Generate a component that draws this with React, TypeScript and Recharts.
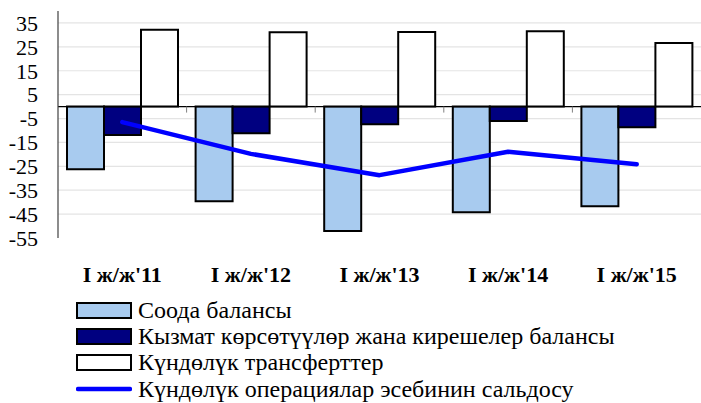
import React from 'react';
import {
  ComposedChart,
  Bar,
  Line,
  XAxis,
  YAxis,
  CartesianGrid,
  ReferenceLine,
  Legend,
} from 'recharts';

const categories = ["I ж/ж'11", "I ж/ж'12", "I ж/ж'13", "I ж/ж'14", "I ж/ж'15"];
const tradeBalance = [-26.2, -39.6, -52.1, -44.2, -41.7];
const servicesIncome = [-11.9, -11.2, -7.4, -6.0, -8.7];
const transfers = [32.2, 31.1, 31.2, 31.5, 26.6];
const currentAccount = [-6.5, -19.8, -28.7, -18.9, -24.1];
const yTicks = [35, 25, 15, 5, -5, -15, -25, -35, -45, -55];
const gridValues = [35, 25, 15, 5, -5, -15, -25, -35, -45];

const seriesNames = [
  'Соода балансы',
  'Кызмат көрсөтүүлөр жана кирешелер балансы',
  'Күндөлүк трансферттер',
  'Күндөлүк операциялар эсебинин сальдосу',
];

const data = categories.map((cat, i) => ({
  cat,
  trade: tradeBalance[i],
  services: servicesIncome[i],
  transfers: transfers[i],
  current: currentAccount[i],
}));

const FONT = '"Liberation Serif", "Times New Roman", serif';

const ZeroLine = (props: any) => {
  const { x1, y1, x2, y2 } = props;
  const n = categories.length;
  const step = (x2 - x1) / n;
  const marks = [];
  for (let k = 1; k < n; k++) {
    const x = x1 + step * k;
    marks.push(<line key={k} x1={x} y1={y1} x2={x} y2={y1 + 6} stroke="#808080" strokeWidth={1} />);
  }
  return (
    <g>
      <line x1={x1} y1={y1} x2={x2} y2={y2} stroke="#000" strokeWidth={1.2} />
      {marks}
    </g>
  );
};

const LegendContent = (props: any) => {
  const payload = [...(props.payload || [])].sort(
    (a: any, b: any) => seriesNames.indexOf(a.value) - seriesNames.indexOf(b.value)
  );
  return (
    <div style={{ fontFamily: FONT, fontSize: 24, color: '#000' }}>
      {payload.map((entry: any, i: number) => (
        <div key={i} style={{ display: 'flex', alignItems: 'center', height: 26.2, whiteSpace: 'nowrap' }}>
          {entry.type === 'line' ? (
            <svg width={56} height={16} style={{ display: 'block' }}>
              <line x1={2} y1={8} x2={54} y2={8} stroke={entry.color} strokeWidth={4.5} strokeLinecap="round" />
            </svg>
          ) : (
            <svg width={56} height={17} style={{ display: 'block' }}>
              <rect x={1} y={1} width={54} height={15} fill={entry.payload?.fill || entry.color} stroke="#000" strokeWidth={2} />
            </svg>
          )}
          <span style={{ marginLeft: 6, lineHeight: '26px' }}>{entry.value}</span>
        </div>
      ))}
    </div>
  );
};

export default function App() {
  return (
    <div style={{ position: 'absolute', left: 0, top: 0, width: 701, height: 403, background: '#fff', fontFamily: FONT }}>
      <ComposedChart
        width={701}
        height={403}
        data={data}
        margin={{ top: 11, right: 0, left: 0, bottom: 125 }}
        barCategoryGap="7%"
        barGap={0}
      >
        <CartesianGrid vertical={false} horizontalValues={gridValues} stroke="#E4E4E4" strokeWidth={1.2} />
        <XAxis
          dataKey="cat"
          axisLine={false}
          tickLine={false}
          tickSize={0}
          tickMargin={28}
          height={40}
          interval={0}
          tick={{ fontFamily: FONT, fontSize: 22, fontWeight: 'bold', fill: '#000' }}
        />
        <YAxis
          domain={[-55, 40]}
          ticks={yTicks}
          interval={0}
          width={58}
          tickLine={false}
          tickSize={0}
          tickMargin={20}
          axisLine={{ stroke: '#404040', strokeWidth: 1.2 }}
          tick={{ fontFamily: FONT, fontSize: 22, fill: '#000' }}
        />
        <Bar dataKey="trade" name={seriesNames[0]} fill="#A8CBEF" stroke="#000" strokeWidth={2} isAnimationActive={false} />
        <Bar dataKey="services" name={seriesNames[1]} fill="#000080" stroke="#000" strokeWidth={2} isAnimationActive={false} />
        <Bar dataKey="transfers" name={seriesNames[2]} fill="#FFFFFF" stroke="#000" strokeWidth={2} isAnimationActive={false} />
        <ReferenceLine y={0} shape={ZeroLine} />
        <Line
          dataKey="current"
          name={seriesNames[3]}
          type="linear"
          stroke="#0000FF"
          strokeWidth={4.5}
          strokeLinecap="round"
          strokeLinejoin="round"
          dot={false}
          activeDot={false}
          isAnimationActive={false}
        />
        <Legend
          layout="vertical"
          align="center"
          verticalAlign="bottom"
          content={LegendContent}
          wrapperStyle={{ left: 76, top: 297, bottom: 'auto', height: 0, width: 'auto' }}
        />
      </ComposedChart>
    </div>
  );
}
